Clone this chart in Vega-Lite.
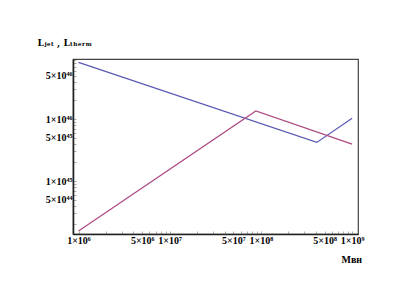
{
  "$schema": "https://vega.github.io/schema/vega-lite/v6.json",
  "width": 285,
  "height": 175,
  "autosize": "none",
  "padding": {"left": 73, "top": 59, "right": 57, "bottom": 60},
  "background": "white",
  "config": {
    "view": {"stroke": "#444", "strokeWidth": 1.2},
    "font": "Liberation Serif"
  },
  "data": {
    "values": [
      {"M": 1e6, "L": 8.2e46, "series": "blue"},
      {"M": 4.1e8, "L": 4.2e45, "series": "blue"},
      {"M": 1e9, "L": 1.03e46, "series": "blue"},
      {"M": 1e6, "L": 1.56e44, "series": "purple"},
      {"M": 8.8e7, "L": 1.35e46, "series": "purple"},
      {"M": 1e9, "L": 3.95e45, "series": "purple"}
    ]
  },
  "mark": {"type": "line", "strokeWidth": 1.2, "clip": true},
  "encoding": {
    "x": {
      "field": "M",
      "type": "quantitative",
      "scale": {"type": "log", "domain": [8.7e5, 1.16e9], "nice": false},
      "axis": {
        "values": [1e6, 2e6, 3e6, 4e6, 5e6, 6e6, 7e6, 8e6, 9e6, 1e7, 2e7, 3e7, 4e7, 5e7, 6e7, 7e7, 8e7, 9e7, 1e8, 2e8, 3e8, 4e8, 5e8, 6e8, 7e8, 8e8, 9e8, 1e9],
        "labelExpr": "datum.value==1e6?'1×10⁶':datum.value==5e6?'5×10⁶':datum.value==1e7?'1×10⁷':datum.value==5e7?'5×10⁷':datum.value==1e8?'1×10⁸':datum.value==5e8?'5×10⁸':datum.value==1e9?'1×10⁹':''",
        "labelFont": "Liberation Serif",
        "labelFontWeight": "bold",
        "labelFontSize": 10,
        "labelColor": "#000",
        "labelPadding": 4,
        "labelOverlap": false,
        "labelFlush": false,
        "tickSize": -3,
        "tickColor": "#999",
        "tickWidth": 0.8,
        "domainColor": "#222",
        "domainWidth": 1.6,
        "grid": false,
        "title": "Mʙʜ",
        "titleFont": "Liberation Serif",
        "titleFontWeight": "bold",
        "titleFontSize": 10,
        "titleColor": "#000",
        "titleAlign": "left",
        "titleBaseline": "bottom",
        "titleX": 268,
        "titleY": 30
      }
    },
    "y": {
      "field": "L",
      "type": "quantitative",
      "scale": {"type": "log", "domain": [1.4e44, 9.3e46], "nice": false},
      "axis": {
        "values": [2e44, 3e44, 4e44, 5e44, 6e44, 7e44, 8e44, 9e44, 1e45, 2e45, 3e45, 4e45, 5e45, 6e45, 7e45, 8e45, 9e45, 1e46, 2e46, 3e46, 4e46, 5e46, 6e46, 7e46, 8e46, 9e46],
        "labelExpr": "datum.value==5e44?'5×10⁴⁴':datum.value==1e45?'1×10⁴⁵':datum.value==5e45?'5×10⁴⁵':datum.value==1e46?'1×10⁴⁶':datum.value==5e46?'5×10⁴⁶':''",
        "labelFont": "Liberation Serif",
        "labelFontWeight": "bold",
        "labelFontSize": 10,
        "labelColor": "#000",
        "labelPadding": 4,
        "labelOverlap": false,
        "labelFlush": false,
        "tickSize": -3,
        "tickColor": "#999",
        "tickWidth": 0.8,
        "domainColor": "#222",
        "domainWidth": 1.6,
        "grid": false,
        "title": "Lⱼₑₜ , Lₜₕₑᵣₘ",
        "titleFont": "DejaVu Serif",
        "titleFontWeight": "bold",
        "titleFontSize": 9,
        "titleColor": "#000",
        "titleAngle": 0,
        "titleAlign": "left",
        "titleBaseline": "bottom",
        "titleX": -36,
        "titleY": -12
      }
    },
    "color": {
      "field": "series",
      "type": "nominal",
      "scale": {"domain": ["blue", "purple"], "range": ["#5858b4", "#ad4a82"]},
      "legend": null
    }
  }
}
